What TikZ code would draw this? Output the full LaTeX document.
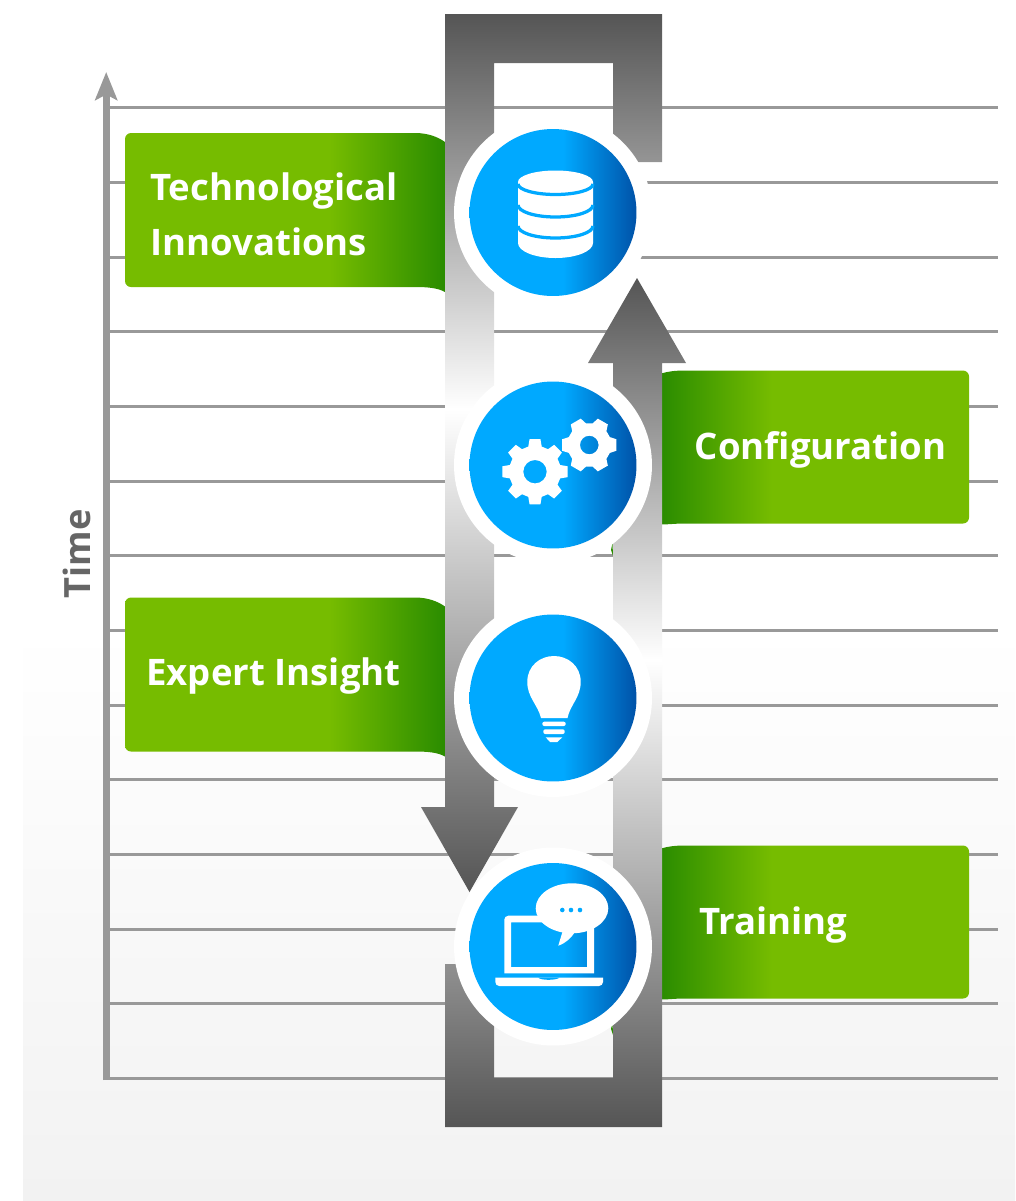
\documentclass[tikz,border=0pt]{standalone}
\usepackage{fontspec}
\setmainfont{Open Sans}
\usetikzlibrary{arrows.meta}
\usetikzlibrary{positioning}
\definecolor{gridgray}{HTML}{999999}
\definecolor{timegray}{HTML}{666666}
\definecolor{bardark}{HTML}{555555}
\definecolor{ribbonlime}{HTML}{76BC00}
\definecolor{ribbondark}{HTML}{2A8C00}
\definecolor{discblue}{HTML}{00A9FF}
\definecolor{discdark}{HTML}{0052A8}
\definecolor{floorgray}{HTML}{F2F2F2}
\pgfdeclarehorizontalshading{ribbonfade}{100bp}{color(0bp)=(ribbonlime); color(57bp)=(ribbonlime); color(75bp)=(ribbondark); color(100bp)=(ribbondark)}
\pgfdeclareverticalshading{loopfade}{100bp}{color(0bp)=(bardark); color(25bp)=(bardark); color(52.5bp)=(white); color(75bp)=(bardark); color(100bp)=(bardark)}
\pgfdeclarehorizontalshading{discfade}{100bp}{color(0bp)=(discblue); color(53bp)=(discblue); color(75bp)=(discdark); color(100bp)=(discdark)}
\tikzset{
  gridline/.style={gridgray,line width=0.06cm},
  ribbon/.style={shade,shading=ribbonfade},
  loopbar/.style={shade,shading=loopfade},
  halo/.style={circle,fill=white,inner sep=0pt,minimum size=3.96cm},
  disc/.style={circle,inner sep=0pt,minimum size=3.34cm,shade,shading=discfade},
  ribbontext/.style={anchor=base west,inner sep=0pt,text=white,font=\fontsize{20.8pt}{31.3pt}\selectfont\bfseries},
}
\newcommand{\gearicon}[8]{% x, y, teeth, tip, root, hole, tip half angle, root half angle
  \fill[white,even odd rule,shift={(#1,#2)}] (0,0) circle[radius=#6]
    (-#8:#5) foreach \k in {1,...,#3} {
      -- ({(\k-1)*360/#3-#7}:#4) -- ({(\k-1)*360/#3+#7}:#4) -- ({(\k-1)*360/#3+#8}:#5) -- ({\k*360/#3-#8}:#5)
    } -- cycle;
}
\begin{document}
\begin{tikzpicture}[x=0.02cm,y=-0.02cm]
  \useasboundingbox (0,0) rectangle (1015,1201);
  \fill[top color=white,bottom color=floorgray] (23,625) rectangle (1015,1201);

  \foreach \y in {107.5,182.5,257,331.5,406.5,481,555.5,630.5,705,779.5,854.5,929,1003.5,1078.5}
    \draw[gridline] (108,\y) -- (998,\y);

  \coordinate (axisfoot) at (106.2,1080);
  \coordinate (axishead) at (106.2,72);
  \draw[gridgray,line width=0.14cm,-{Stealth[length=0.56cm,width=0.44cm,inset=0.11cm]}] (axisfoot) -- (axishead);
  \node[rotate=90,anchor=base,inner sep=0pt,text=timegray,font=\fontsize{20.6pt}{25pt}\selectfont\bfseries] (time) at (90,554) {Time};

  \foreach \y in {0,464.5}
    \shade[ribbon,shift={(0,\y)}] (445,142) .. controls (438,137) and (428,133) .. (415,133)
      [rounded corners=0.12cm] -- (125,133) -- (125,287) [sharp corners] -- (415,287)
      .. controls (428,287) and (438,288) .. (445,292) -- cycle;
  \foreach \y in {0,475}
    \shade[ribbon,shading angle=180,shift={(0,\y)}] (661,373.5) .. controls (668,371.5) and (675,370.5) .. (685,370.5)
      [rounded corners=0.12cm] -- (969,370.5) -- (969,523.5) [sharp corners] -- (685,523.5)
      .. controls (675,523.5) and (668,524.5) .. (661,524.5) -- cycle;
  \foreach \y in {0,479}
    \fill[ribbondark,shift={(0,\y)}] (612.5,543) -- (611,550) -- (613,556) -- cycle;

  \shade[loopbar] (445,14) -- (662,14) -- (662,162) -- (613,162) -- (613,63) -- (494,63) -- (494,807)
    -- (518,807) -- (469.5,892) -- (421,807) -- (445,807) -- cycle;
  \shade[loopbar] (662,1127) -- (445,1127) -- (445,964) -- (494,964) -- (494,1078) -- (613,1078) -- (613,363)
    -- (588,363) -- (637,278) -- (686,363) -- (662,363) -- cycle;

  \foreach \nm/\y in {db/212.5,gears/465,bulb/698,laptop/946.5} {
    \node[halo] (\nm halo) at (553,\y) {};
    \node[disc] (\nm) at (553,\y) {};
  }

  % database
  \fill[white] (518,182) arc (180:360:37.5 and 11.5) -- (593,243) arc (0:180:37.5 and 15) -- cycle;
  \foreach \y/\r in {184/10.5,205/12,226/12}
    \draw[discblue,line width=0.065cm] (518,\y) arc (180:0:37.5 and \r);

  % gears
  \gearicon{535}{471.7}{8}{33}{26}{11.7}{9.5}{15}
  \gearicon{589.3}{445}{6}{27.7}{22}{9.3}{12}{21}

  % bulb
  \fill[white] (541,718) .. controls (538,705) and (527,697) .. (527.3,681.7)
    .. controls (527.3,666) and (540,656) .. (554,656)
    .. controls (568,656) and (580.7,666) .. (580.7,681.7)
    .. controls (581,697) and (570,705) .. (567.5,718) -- cycle;
  \fill[white,rounded corners=0.04cm] (542.3,721.7) rectangle (565.7,726);
  \fill[white,rounded corners=0.04cm] (543.3,729.3) rectangle (564.7,734);
  \fill[white] (545.7,737.3) -- (562.3,737.3) -- (557.3,742) -- (550,742) -- cycle;

  % laptop and speech bubble
  \fill[white,even odd rule] (504.3,973.3) [rounded corners=0.08cm] -- (504.3,915.7) [sharp corners] -- (594,915.7) -- (594,973.3) -- cycle
    (511,922.3) rectangle (587,967);
  \fill[white] (495.3,977.7) [sharp corners] -- (603,977.7) [rounded corners=0.08cm] -- (603,986) -- (495.3,986) [sharp corners] -- cycle;
  \fill[discblue] (538.3,977.7) -- (559.3,977.7) .. controls (556,980.5) and (541,980.5) .. (538.3,977.7) -- cycle;
  \fill[white] (572,908.3) ellipse (36.3 and 25);
  \fill[white] (575,932) .. controls (571,938) and (566,943) .. (558.3,945.7) -- (563,930) -- cycle;
  \foreach \x in {562.3,571,580}
    \fill[discblue] (\x,910) circle (2.3);

  \node[ribbontext] (techlabel) at (150,200) {Technological};
  \node[ribbontext] (innolabel) at (150,255) {Innovations};
  \node[ribbontext] (configlabel) at (694.5,459) {Configuration};
  \node[ribbontext] (expertlabel) at (146,685) {Expert Insight};
  \node[ribbontext] (trainlabel) at (699,934) {Training};
\end{tikzpicture}
\end{document}
